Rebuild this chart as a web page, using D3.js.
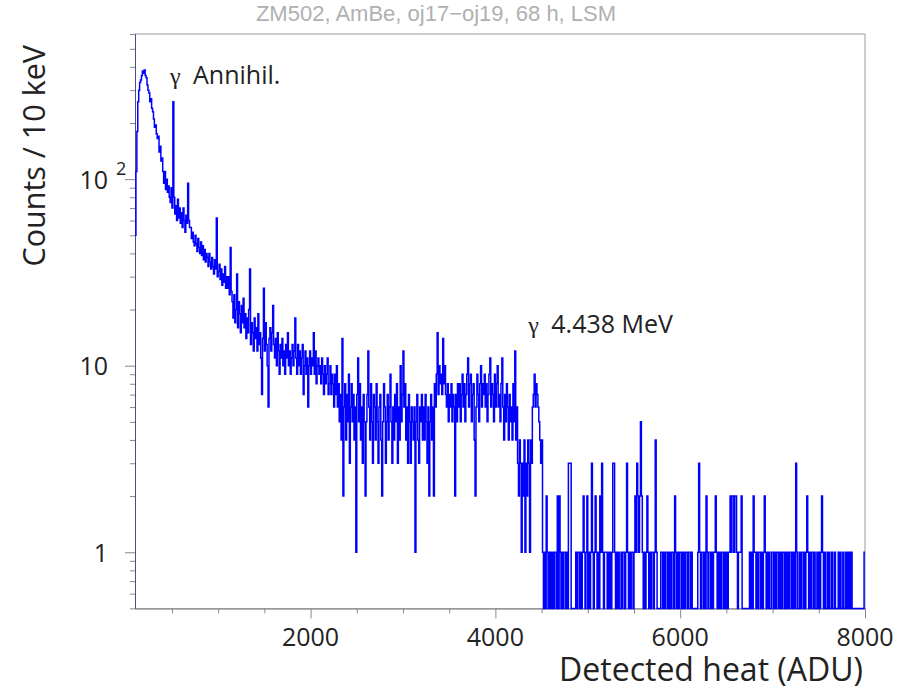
<!DOCTYPE html>
<html>
<head>
<meta charset="utf-8">
<script src="https://cdn.jsdelivr.net/npm/d3@7"></script>
<style>
body { margin: 0; background: #fff; }
text { font-family: "Open Sans", sans-serif; fill: #222; }
</style>
</head>
<body>
<div id="vis"></div>
<script>
// histogram: 10 ADU bins from 100 to 8000
const binStart = 100;
const binWidth = 10;

const countsPeak = [
    50, 110, 180, 260, 300, 330, 340, 360, 380, 370,
    385, 360, 350, 320, 300, 290, 260, 270, 240, 230,
    210, 190, 195, 175, 165, 170, 140, 150, 125, 130,
    110, 95, 110, 88, 100, 85, 92, 80, 75, 90,
    70, 260, 80, 65, 72, 60, 78, 62, 70, 58];
const counts600 = [
    66, 55, 70, 60, 52, 64, 58, 95, 60, 55,
    55, 48, 52, 46, 44, 50, 45, 41, 48, 43,
    40, 46, 39, 44, 37, 42, 36, 40, 38, 34,
    40, 36, 33, 38, 34, 31, 37, 33, 62, 30,
    32, 35, 29, 33, 27, 31, 28, 34, 26, 30];
const counts1100 = [
    26, 30, 24, 43, 25, 22, 18, 24, 17, 20,
    31, 16, 22, 19, 15, 21, 17, 23, 16, 19,
    14, 18, 15, 20, 33, 13, 17, 15, 12, 18,
    14, 16, 12, 19, 13, 15, 11, 7, 14, 26,
    12, 17, 13, 10, 6, 14, 16, 12, 15, 21];
const counts1600 = [
    13, 11, 14, 10, 15, 12, 9, 13, 11, 14,
    10, 12, 9, 13, 11, 15, 10, 12, 9, 11,
    13, 10, 12, 18, 11, 9, 13, 10, 12, 9,
    11, 13, 7, 10, 12, 9, 11, 6, 10, 12,
    9, 11, 10, 15, 9, 12, 8, 10, 11, 9];
const counts2100 = [
    10, 8, 11, 9, 7, 10, 8, 9, 11, 7,
    8, 10, 7, 9, 8, 6, 9, 7, 10, 6,
    8, 5, 7, 4, 14, 2, 6, 8, 4, 7,
    5, 9, 3, 6, 8, 5, 7, 4, 6, 1,
    7, 11, 5, 8, 4, 6, 3, 7, 5, 2];
const counts2600 = [
    5, 7, 12, 6, 4, 8, 5, 3, 7, 6,
    4, 8, 5, 3, 6, 7, 4, 2, 5, 8,
    6, 3, 5, 7, 4, 6, 9, 5, 3, 6,
    4, 7, 5, 8, 3, 6, 4, 10, 5, 7,
    12, 6, 8, 4, 6, 3, 7, 5, 3, 6];
const counts3100 = [
    5, 4, 6, 1, 5, 7, 4, 3, 6, 5,
    7, 4, 6, 4, 7, 5, 3, 6, 2, 5,
    7, 4, 6, 2, 8, 6, 9, 15, 7, 10,
    8, 9, 7, 14, 8, 10, 7, 6, 8, 5,
    7, 6, 8, 5, 7, 6, 2, 7, 5, 8];
const counts3600 = [
    6, 8, 5, 7, 9, 6, 8, 5, 7, 9,
    11, 6, 8, 9, 5, 7, 8, 4, 2, 6,
    9, 7, 5, 8, 10, 6, 8, 7, 9, 6,
    8, 5, 7, 9, 11, 6, 8, 7, 5, 9,
    6, 8, 10, 6, 7, 5, 8, 11, 6, 4];
const counts4100 = [
    7, 5, 8, 6, 4, 7, 5, 6, 4, 8,
    5, 12, 4, 6, 3, 2, 4, 3, 1, 3,
    2, 4, 1, 3, 2, 4, 3, 1, 4, 3,
    6, 7, 9, 6, 8, 7, 6, 5, 4, 3,
    4, 1, 0, 1, 0, 2, 1, 0, 1, 0];
const counts4600 = [
    1, 0, 1, 0, 1, 1, 0, 2, 0, 2,
    1, 0, 1, 0, 1, 1, 0, 1, 0, 3,
    3, 3, 0, 0, 0, 0, 0, 1, 0, 1,
    1, 0, 1, 0, 1, 2, 1, 0, 1, 2,
    0, 1, 0, 1, 3, 1, 0, 1, 2, 1];
const counts5100 = [
    0, 1, 0, 2, 1, 3, 1, 0, 1, 1,
    1, 0, 1, 0, 1, 0, 1, 3, 3, 1,
    0, 1, 0, 1, 0, 0, 1, 0, 1, 1,
    0, 1, 3, 1, 0, 1, 0, 1, 1, 0,
    1, 2, 1, 3, 2, 1, 2, 5, 2, 1];
const counts5600 = [
    0, 1, 0, 1, 2, 1, 0, 1, 0, 1,
    1, 0, 1, 4, 1, 0, 0, 0, 0, 1,
    1, 0, 1, 0, 1, 1, 0, 1, 0, 1,
    0, 1, 1, 0, 2, 1, 0, 1, 0, 1,
    1, 0, 1, 0, 1, 0, 1, 1, 0, 1];
const counts6100 = [
    1, 0, 1, 0, 0, 0, 0, 0, 0, 1,
    3, 1, 0, 1, 1, 0, 1, 0, 2, 1,
    0, 1, 1, 0, 1, 0, 1, 1, 2, 1,
    0, 1, 0, 1, 0, 1, 1, 0, 1, 0,
    1, 0, 1, 1, 2, 1, 2, 2, 1, 2];
const counts6600 = [
    2, 1, 0, 1, 1, 1, 2, 0, 0, 0,
    0, 0, 0, 0, 0, 1, 0, 1, 0, 2,
    1, 1, 0, 1, 0, 1, 1, 0, 1, 0,
    1, 2, 1, 0, 1, 0, 1, 0, 0, 1,
    1, 0, 1, 0, 1, 1, 0, 1, 0, 1];
const counts7100 = [
    0, 1, 1, 0, 1, 0, 1, 0, 1, 1,
    0, 1, 0, 1, 0, 3, 1, 0, 0, 1,
    0, 1, 1, 0, 1, 0, 1, 2, 1, 0,
    1, 0, 1, 1, 0, 1, 0, 0, 1, 0,
    1, 0, 1, 2, 1, 0, 1, 0, 0, 1];
const counts7600 = [
    0, 1, 0, 0, 1, 0, 0, 1, 0, 0,
    0, 1, 0, 1, 0, 0, 1, 0, 0, 1,
    0, 1, 0, 1, 0, 1, 0, 0, 0, 0,
    0, 0, 0, 0, 0, 0, 0, 0, 0, 1];

const counts = [].concat(countsPeak, counts600, counts1100, counts1600, counts2100,
    counts2600, counts3100, counts3600, counts4100, counts4600, counts5100,
    counts5600, counts6100, counts6600, counts7100, counts7600);

const xMajorTicks = [2000, 4000, 6000, 8000];
const xMinorTicks = [500, 1000, 1500, 2500, 3000, 3500, 4500, 5000, 5500, 6500, 7000, 7500];
const yMajorTicks = [1, 10, 100];
const yMinorTicks = [0.5, 0.6, 0.7, 0.8, 0.9, 2, 3, 4, 5, 6, 7, 8, 9,
    20, 30, 40, 50, 60, 70, 80, 90, 200, 300, 400, 500, 600];
const yTickLabels = [
    { v: 1, text: "1", sup: "" },
    { v: 10, text: "10", sup: "" },
    { v: 100, text: "10", sup: "2" }];
const notes = [
    { adu: 479, count: 324, text: "Annihil." },
    { adu: 4356, count: 15, text: "4.438 MeV" }];

const W = 912, H = 690;
const svg = d3.select("#vis").append("svg")
    .attr("width", W).attr("height", H);

const x = d3.scaleLinear().domain([100, 8000]).range([135, 865]);
const y = d3.scaleLog().domain([0.5, 600]).range([608.4, 34]);

// frame top / right
svg.append("line").attr("x1", 135).attr("x2", 865).attr("y1", 34).attr("y2", 34)
    .attr("stroke", "#999");
svg.append("line").attr("x1", 865).attr("x2", 865).attr("y1", 34).attr("y2", 608.4)
    .attr("stroke", "#999");

// x axis
const gx = svg.append("g").attr("transform", "translate(0,608.4)");
gx.call(d3.axisBottom(x).tickValues(xMajorTicks).tickSize(10).tickSizeOuter(0).tickFormat(""));
gx.append("g").call(d3.axisBottom(x).tickValues(xMinorTicks).tickSize(5).tickSizeOuter(0).tickFormat(""));
gx.selectAll("path").attr("stroke", "#888");
gx.selectAll("line").attr("stroke", "#888");

// y axis
const gy = svg.append("g").attr("transform", "translate(135,0)");
gy.call(d3.axisLeft(y).tickValues(yMajorTicks).tickSize(10).tickSizeOuter(0).tickFormat(""));
gy.append("g").call(d3.axisLeft(y).tickValues(yMinorTicks).tickSize(5).tickSizeOuter(0).tickFormat(""));
gy.selectAll("path").attr("stroke", "#4d4d85");
gy.selectAll("line").attr("stroke", "#888");

// histogram
const pts = counts.map((c, i) => [binStart + i * binWidth, c]);
pts.push([binStart + counts.length * binWidth, counts[counts.length - 1]]);
const line = d3.line()
    .x(d => x(d[0]))
    .y(d => d[1] > 0 ? y(d[1]) : y(0.5))
    .curve(d3.curveStepAfter);
svg.append("path").datum(pts)
    .attr("d", line)
    .attr("fill", "none")
    .attr("stroke", "#0000ff")
    .attr("stroke-width", 1.5);

// tick labels
svg.selectAll(".xl").data(xMajorTicks).enter().append("text")
    .attr("x", d => x(d)).attr("y", 646)
    .attr("text-anchor", "middle").style("font-size", "25px")
    .text(d => d);

yTickLabels.forEach(d => {
    svg.append("text").attr("x", 108).attr("y", y(d.v) + 9.5)
        .attr("text-anchor", "end").style("font-size", "25px").text(d.text);
    if (d.sup) {
        svg.append("text").attr("x", 116).attr("y", y(d.v) - 4)
            .style("font-size", "18px").text(d.sup);
    }
});

// titles
svg.append("text").attr("x", 436).attr("y", 21)
    .attr("text-anchor", "middle")
    .style("font-family", "'Liberation Sans', sans-serif")
    .style("font-size", "22px").style("fill", "#b0b0b0")
    .text("ZM502, AmBe, oj17\u2212oj19, 68 h, LSM");

svg.append("text").attr("x", 863).attr("y", 681)
    .attr("text-anchor", "end").style("font-size", "32px")
    .text("Detected heat (ADU)");

svg.append("text")
    .attr("transform", "translate(45,45) rotate(-90)")
    .attr("text-anchor", "end").style("font-size", "30.5px")
    .text("Counts / 10 keV");

// annotations
notes.forEach(n => {
    svg.append("text").attr("x", x(n.adu)).attr("y", y(n.count))
        .style("font-family", "'Liberation Serif', serif")
        .style("font-size", "24px").text("\u03b3");
    svg.append("text").attr("x", x(n.adu) + 23).attr("y", y(n.count))
        .style("font-size", "25px").text(n.text);
});
</script>
</body>
</html>
